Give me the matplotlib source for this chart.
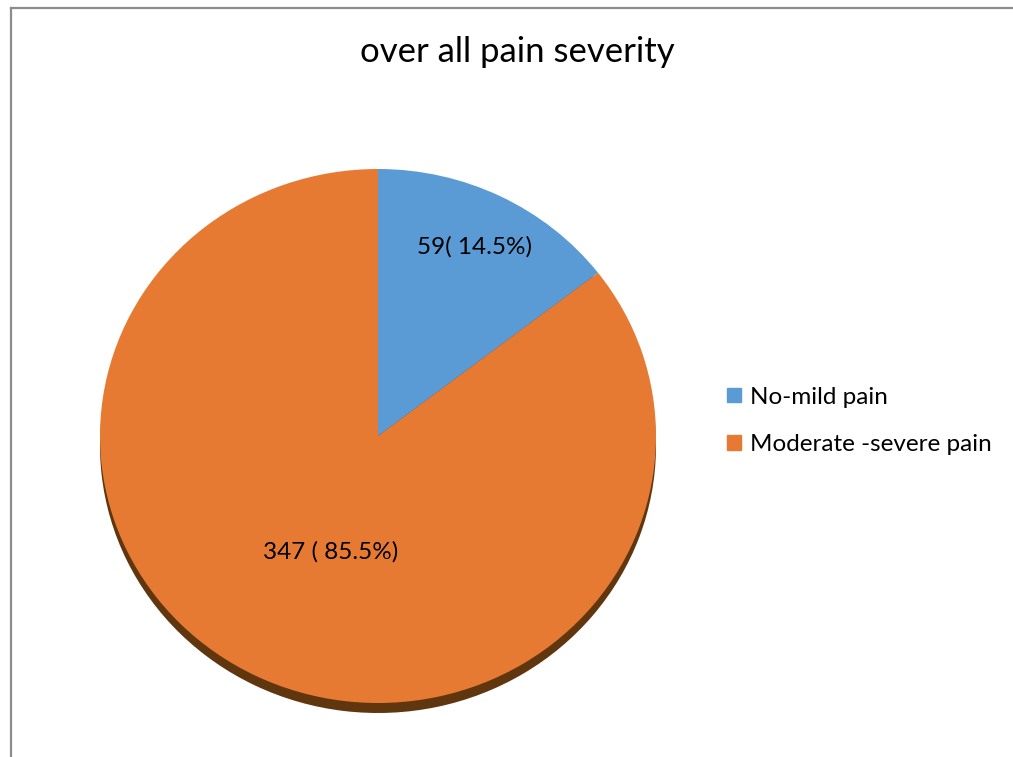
import matplotlib
matplotlib.use("Agg")
import matplotlib.pyplot as plt
from matplotlib.lines import Line2D
from matplotlib.patches import Patch
import numpy as np

title = "over all pain severity"
categories = ["No-mild pain", "Moderate -severe pain"]
counts = [59, 347]
value_labels = ["59( 14.5%)", "347 ( 85.5%)"]
colors = ["#5B9BD5", "#E77A33"]
shadow_colors = ["#2E4F6E", "#60360F"]

plt.rcParams['font.family'] = ['Lato', 'DejaVu Sans']

W, H = 1013, 757
fig = plt.figure(figsize=(W / 100, H / 100), dpi=100)

# pie axes (ellipse: x 100-656, y 169-703 px)
ax = fig.add_axes([100 / W, (H - 703) / H, 556 / W, 534 / H])

# 3D edge/shadow
shift = 10 / 267.0
ax.pie(counts, colors=shadow_colors, startangle=90, counterclock=False,
       center=(0, -shift), radius=1.0, frame=True,
       wedgeprops=dict(linewidth=0, clip_on=False))
wedges, _ = ax.pie(counts, colors=colors, startangle=90, counterclock=False,
                   center=(0, 0), radius=1.0, frame=True,
                   wedgeprops=dict(linewidth=0, clip_on=False))
ax.set_aspect('auto')
ax.set_xlim(-1, 1)
ax.set_ylim(-1, 1)
ax.axis('off')

label_pos = [(0.79, 0.0), (0.466, 4.85)]  # (distance, angle tweak)
for w, lab, (d, da) in zip(wedges, value_labels, label_pos):
    ang = np.deg2rad((w.theta1 + w.theta2) / 2 + da)
    ax.text(d * np.cos(ang), d * np.sin(ang), lab, ha='center', va='center',
            fontsize=17.5, color='#000000')

fig.text(517 / W, 1 - 52 / H, title, ha='center', va='center', fontsize=25, color='#000000')

# legend
handles = [Patch(facecolor=c, edgecolor=c) for c in colors]
leg = fig.legend(handles, categories, loc='center left',
                 bbox_to_anchor=(715 / W, 1 - 421 / H), frameon=False,
                 fontsize=17.5, handlelength=0.55, handleheight=0.55,
                 handletextpad=0.4, labelspacing=1.1, borderpad=0)

# border lines
fig.add_artist(Line2D([10.5 / W, 10.5 / W], [0, 1 - 7.5 / H], color='#8C8C8C', lw=1.6,
                      transform=fig.transFigure))
fig.add_artist(Line2D([10.5 / W, 1], [1 - 7.5 / H, 1 - 7.5 / H], color='#8C8C8C', lw=1.6,
                      transform=fig.transFigure))

fig.savefig("out.png", dpi=100, facecolor='white')
